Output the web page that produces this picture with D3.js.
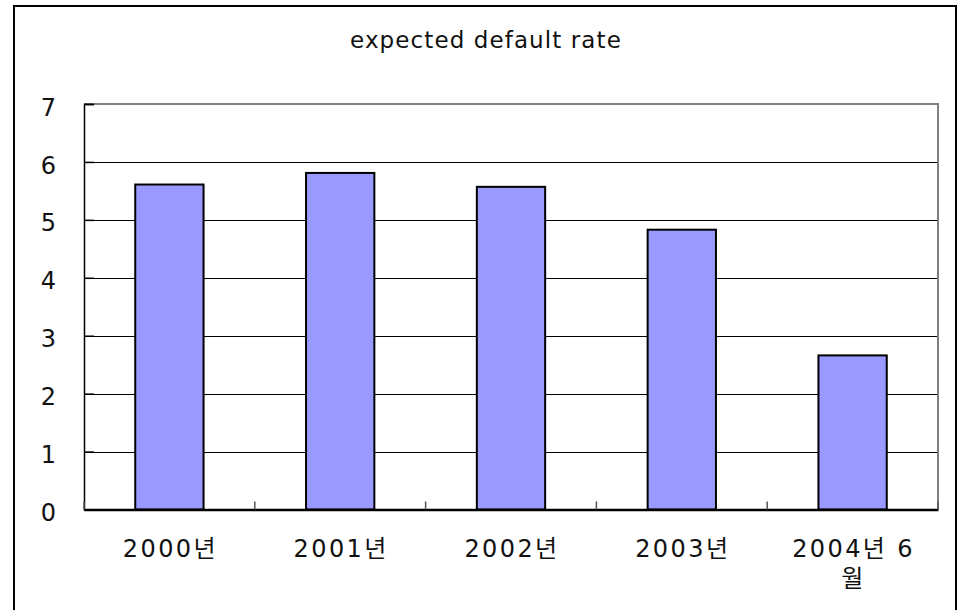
<!DOCTYPE html>
<html>
<head>
<meta charset="utf-8">
<script src="https://cdn.jsdelivr.net/npm/d3@7"></script>
<style>
html,body{margin:0;padding:0;background:#fff;}
svg{display:block;}
</style>
</head>
<body>
<script>
const title = "expected default rate";
const categories = ["2000년", "2001년", "2002년", "2003년", "2004년 6\n월"];
const values = [5.61, 5.81, 5.57, 4.83, 2.66];
const yTicks = [0, 1, 2, 3, 4, 5, 6, 7];

const W = 959, H = 610;
const plot = {left: 84, right: 938, top: 104, bottom: 509.5};
const font = "'DejaVu Sans', 'Noto Sans CJK KR', sans-serif";

const svg = d3.select("body").append("svg").attr("width", W).attr("height", H);

// outer frame
svg.append("rect").attr("x", 14).attr("y", 6).attr("width", 942).attr("height", 610)
  .attr("fill", "#fff").attr("stroke", "#000").attr("stroke-width", 2);

const x = d3.scaleBand().domain(categories).range([plot.left, plot.right]).paddingInner(0).paddingOuter(0);
const y = d3.scaleLinear().domain([0, 7]).range([plot.bottom, plot.top]);

// title
svg.append("text").attr("x", 486).attr("y", 48).attr("text-anchor", "middle")
  .attr("font-family", font).attr("font-size", 23).attr("letter-spacing", "1.1px")
  .attr("fill", "#111").text(title);

// gridlines
svg.append("g").selectAll("line").data(yTicks.filter(d => d > 0 && d < 7)).join("line")
  .attr("x1", plot.left).attr("x2", plot.right)
  .attr("y1", d => Math.round(y(d)) + 0.5).attr("y2", d => Math.round(y(d)) + 0.5)
  .attr("stroke", "#000").attr("stroke-width", 1);

// plot border top/right (gray)
svg.append("path")
  .attr("d", `M${plot.left},${plot.top}H${plot.right}V${plot.bottom}`)
  .attr("fill", "none").attr("stroke", "#808080").attr("stroke-width", 2);

// bars
const bw = x.bandwidth() * 0.4;
svg.append("g").selectAll("rect").data(values).join("rect")
  .attr("x", (d, i) => x(categories[i]) + (x.bandwidth() - bw) / 2)
  .attr("y", d => y(d))
  .attr("width", bw)
  .attr("height", d => y(0) - y(d))
  .attr("fill", "#9999FF").attr("stroke", "#000").attr("stroke-width", 2);

// y axis
const yAxis = d3.axisLeft(y).tickValues(yTicks).tickSize(-10).tickPadding(0).tickFormat(d3.format("d"));
const gy = svg.append("g").attr("transform", `translate(${plot.left},0)`).call(yAxis);
gy.select(".domain").attr("stroke", "#000").attr("stroke-width", 1.5);
gy.selectAll(".tick line").attr("stroke", "#000").attr("stroke-width", 1.5);
gy.selectAll(".tick text").attr("x", -28).attr("dy", "0.38em").attr("y", 2)
  .attr("font-family", font).attr("font-size", 24).attr("fill", "#111");

// x axis
const xAxis = d3.axisBottom(x).tickSize(0).tickFormat("");
const gx = svg.append("g").attr("transform", `translate(0,${plot.bottom})`).call(xAxis);
gx.select(".domain").attr("stroke", "#000").attr("stroke-width", 2.5);
// boundary ticks (inward)
const bounds = categories.map(c => x(c)).concat([plot.right]);
gx.append("g").selectAll("line").data(bounds).join("line")
  .attr("x1", d => d).attr("x2", d => d).attr("y1", 0).attr("y2", -8)
  .attr("stroke", "#555").attr("stroke-width", 1.5);

// x labels
const lbl = svg.append("g");
categories.forEach(c => {
  const lines = c.split("\n");
  const t = lbl.append("text").attr("text-anchor", "middle")
    .attr("font-family", font).attr("font-size", 24).attr("letter-spacing", "2.4px").attr("fill", "#111");
  lines.forEach((ln, j) => {
    t.append("tspan").attr("x", x(c) + x.bandwidth() / 2 + 1).attr("y", plot.bottom + 47 + j * 30).text(ln);
  });
});
</script>
</body>
</html>
